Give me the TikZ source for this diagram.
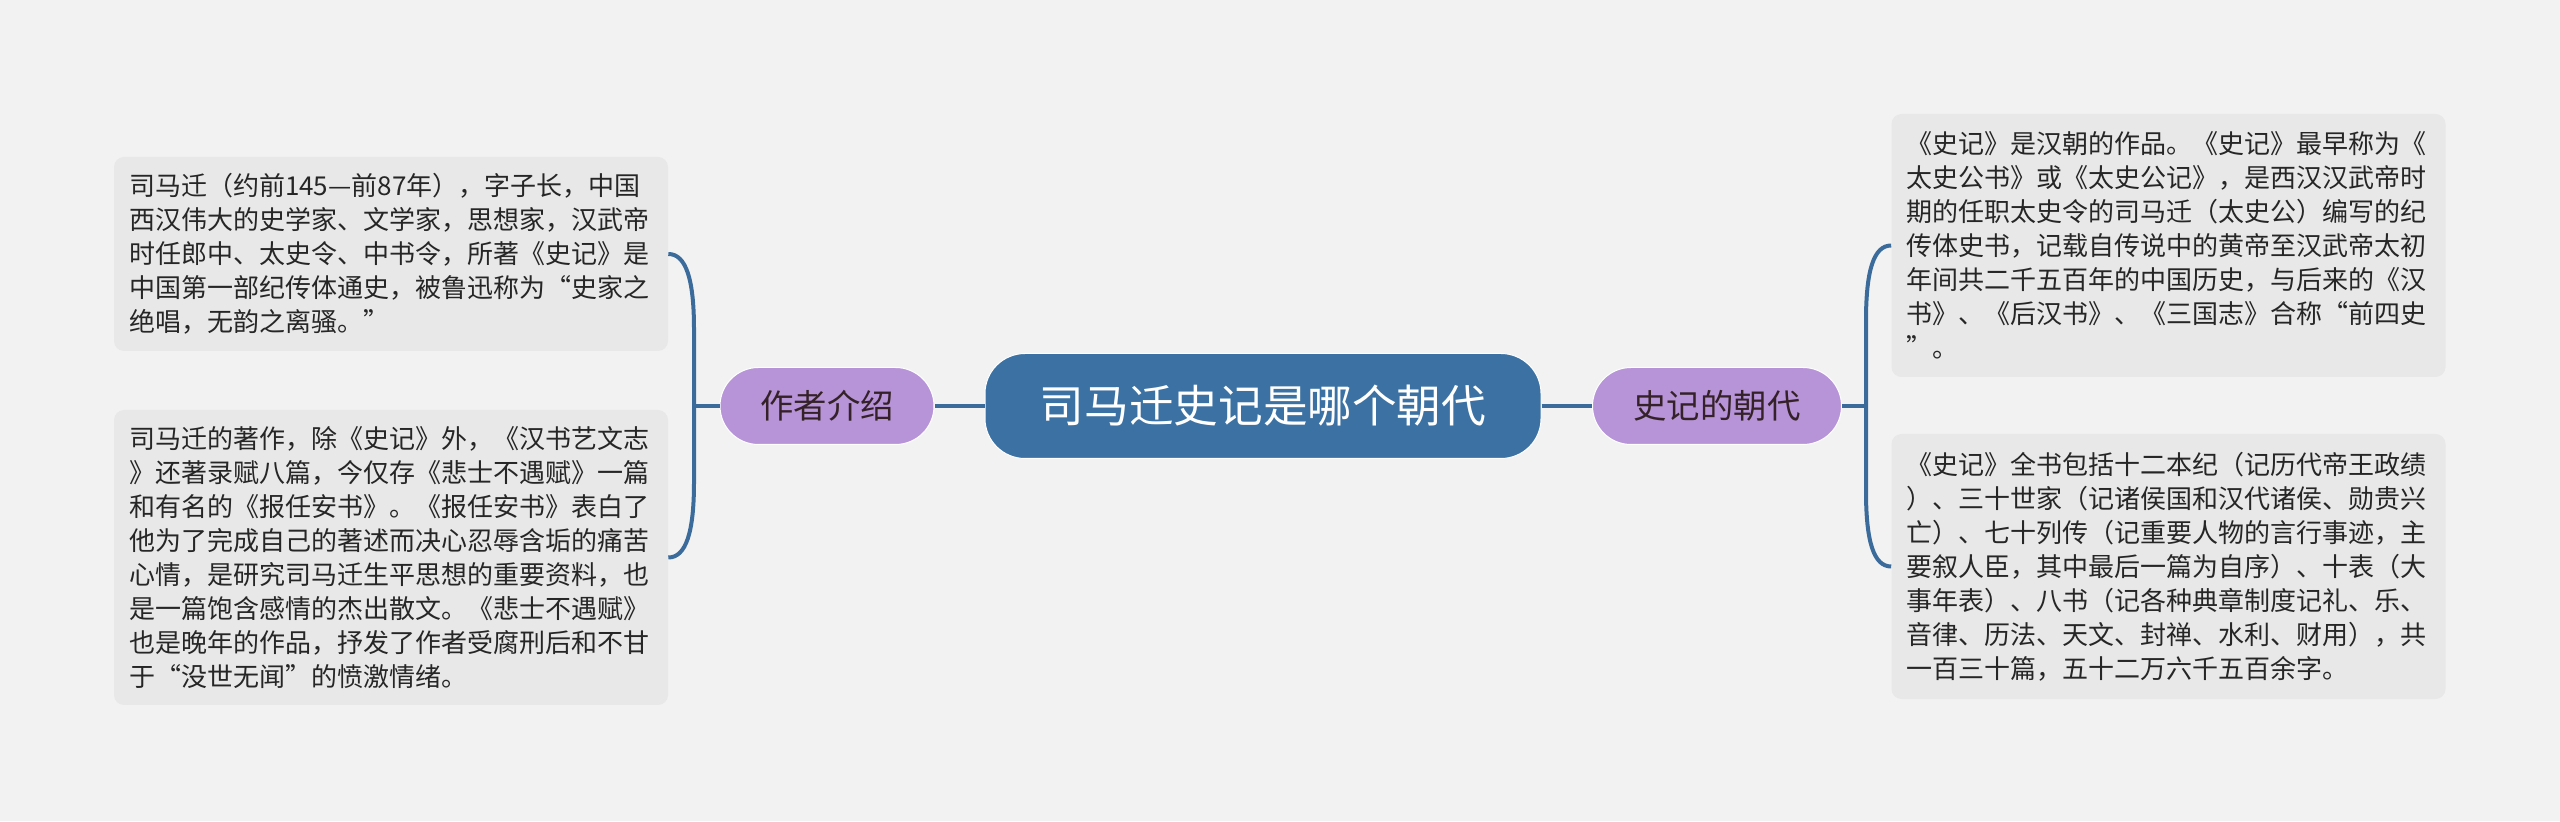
\documentclass[tikz,border=0pt]{standalone}
\usepackage{fontspec}
\setmainfont{Noto Sans CJK SC}
\usepackage{xcolor}
\usetikzlibrary{calc,positioning}
\definecolor{bgc}{HTML}{F2F2F2}
\definecolor{boxc}{HTML}{E8E8E8}
\definecolor{rootc}{HTML}{3B72A3}
\definecolor{midc}{HTML}{B794D8}
\definecolor{linec}{HTML}{3A6B9B}
\definecolor{txtc}{HTML}{262626}

\begin{document}
\begin{tikzpicture}[
  link/.style={draw=linec,line width=0.08cm},
  mid/.style={fill=midc,draw=white,line width=0.02cm,minimum height=1.54cm,rounded corners=0.77cm,text=txtc!90!purple,font=\fontsize{19pt}{23pt}\selectfont},
  txt/.style={fill=boxc,rounded corners=0.2cm,text=txtc,align=left,text width=10.48cm,inner xsep=0.3cm,font=\fontsize{14.8pt}{19.35pt}\selectfont}]
 % canvas
 \fill[bgc] (0,0) rectangle (51.2,16.42);
 \useasboundingbox (0,0) rectangle (51.2,16.42);
 % centre and branches
 \node[fill=rootc,draw=white,line width=0.02cm,rounded corners=0.8cm,minimum width=11.12cm,minimum height=2.1cm,text=white,font=\fontsize{25.4pt}{30pt}\selectfont] (topic) at (25.26,8.30) {司马迁史记是哪个朝代};
 \node[mid,minimum width=4.28cm] (auth) at (16.54,8.30) {作者介绍};
 \node[mid,minimum width=4.98cm] (dyn) at (34.34,8.30) {史记的朝代};
 % leaves, left
 \node[txt,minimum height=3.88cm] (a1) at (7.82,11.34) {司马迁（约前145—前87年），字子长，中国\\西汉伟大的史学家、文学家，思想家，汉武帝\\时任郎中、太史令、中书令，所著《史记》是\\中国第一部纪传体通史，被鲁迅称为“史家之\\绝唱，无韵之离骚。”};
 \node[txt,minimum height=5.90cm] (a2) at (7.82,5.27) {司马迁的著作，除《史记》外，《汉书艺文志\\》还著录赋八篇，今仅存《悲士不遇赋》一篇\\和有名的《报任安书》。《报任安书》表白了\\他为了完成自己的著述而决心忍辱含垢的痛苦\\心情，是研究司马迁生平思想的重要资料，也\\是一篇饱含感情的杰出散文。《悲士不遇赋》\\也是晚年的作品，抒发了作者受腐刑后和不甘\\于“没世无闻”的愤激情绪。};
 % leaves, right
 \node[txt,minimum height=5.26cm] (d1) at (43.37,11.51) {《史记》是汉朝的作品。《史记》最早称为《\\太史公书》或《太史公记》，是西汉汉武帝时\\期的任职太史令的司马迁（太史公）编写的纪\\传体史书，记载自传说中的黄帝至汉武帝太初\\年间共二千五百年的中国历史，与后来的《汉\\书》、《后汉书》、《三国志》合称“前四史\\”。};
 \node[txt,minimum height=5.30cm] (d2) at (43.37,5.09) {《史记》全书包括十二本纪（记历代帝王政绩\\）、三十世家（记诸侯国和汉代诸侯、勋贵兴\\亡）、七十列传（记重要人物的言行事迹，主\\要叙人臣，其中最后一篇为自序）、十表（大\\事年表）、八书（记各种典章制度记礼、乐、\\音律、历法、天文、封禅、水利、财用），共\\一百三十篇，五十二万六千五百余字。};
 % connectors
 \coordinate (lj) at (13.88,8.30);
 \coordinate (rj) at (37.32,8.30);
 \draw[link] (topic.west) -- (auth.east);
 \draw[link] (topic.east) -- (dyn.west);
 \draw[link] (auth.west) -- (lj);
 \draw[link] (dyn.east) -- (rj);
 \draw[link] (a1.east) .. controls ($(a1.east)+(0.35,0)$) and ($(lj|-a1.east)+(0,-0.5)$) .. ($(lj|-a1.east)+(0,-1.5)$)
   -- ($(lj|-a2.east)+(0,1.5)$) .. controls ($(lj|-a2.east)+(0,0.5)$) and ($(a2.east)+(0.35,0)$) .. (a2.east);
 \draw[link] (d1.west) .. controls ($(d1.west)+(-0.35,0)$) and ($(rj|-d1.west)+(0,-0.5)$) .. ($(rj|-d1.west)+(0,-1.5)$)
   -- ($(rj|-d2.west)+(0,1.5)$) .. controls ($(rj|-d2.west)+(0,0.5)$) and ($(d2.west)+(-0.35,0)$) .. (d2.west);
\end{tikzpicture}
\end{document}
